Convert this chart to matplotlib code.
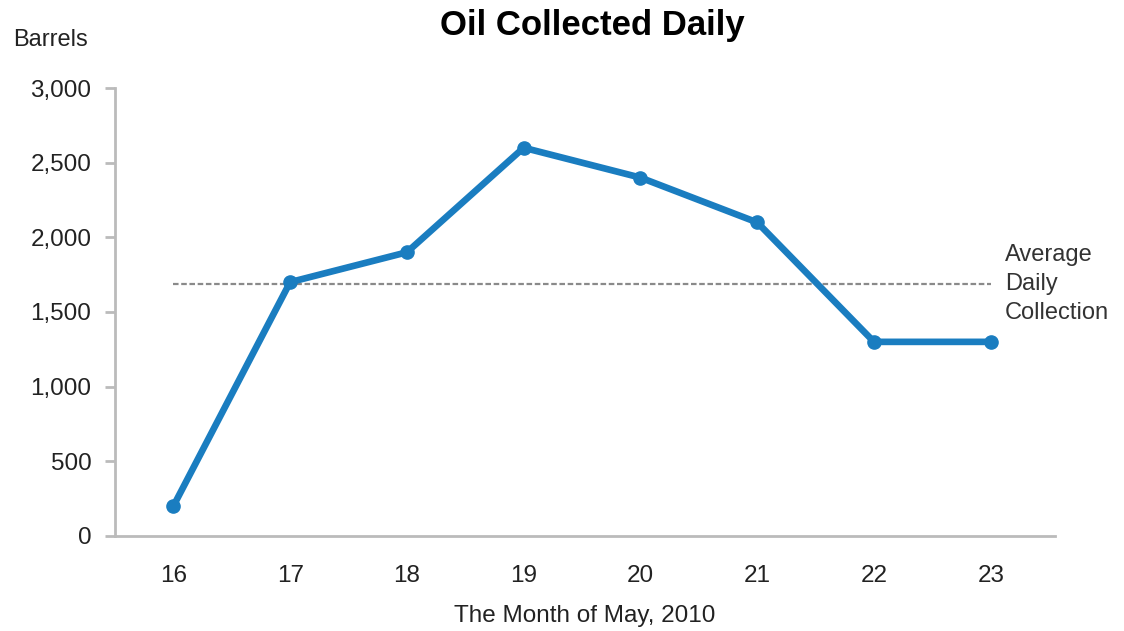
import numpy as np
from matplotlib import pyplot as plt
from matplotlib.ticker import FuncFormatter

plt.rcParams['font.family'] = ['Liberation Sans', 'DejaVu Sans']

days = [16, 17, 18, 19, 20, 21, 22, 23]
barrels = [200, 1700, 1900, 2600, 2400, 2100, 1300, 1300]
y_ticks = [0, 500, 1000, 1500, 2000, 2500, 3000]

avg = np.mean(barrels)

fig = plt.figure(figsize=(11.24, 6.31), dpi=100)
ax = fig.add_axes([0.1023, 0.1506, 0.8363, 0.7099])

ax.plot(days, barrels, color='#1a7dc0', lw=4.8, marker='o', ms=9.5,
        solid_joinstyle='round', zorder=3)
ax.plot([days[0], days[-1]], [avg, avg], color='#8a8a8a', lw=1.6,
        ls=(0, (2.5, 1.2)), zorder=2)
ax.text(days[-1] + 0.12, avg, 'Average\nDaily\nCollection', fontsize=17,
        color='#333333', va='center', ha='left', linespacing=1.4)

ax.set_xlim(15.5, 23.55)
ax.set_ylim(0, 3000)
ax.set_xticks(days)
ax.set_yticks(y_ticks)
ax.yaxis.set_major_formatter(FuncFormatter(lambda v, p: f'{int(v):,}'))

for side in ['top', 'right']:
    ax.spines[side].set_visible(False)
for side in ['left', 'bottom']:
    ax.spines[side].set_color('#bbbbbb')
    ax.spines[side].set_linewidth(2)

ax.tick_params(axis='y', length=7, width=2, color='#bbbbbb', labelsize=17.5,
               labelcolor='#222222', pad=10)
ax.tick_params(axis='x', length=0, labelsize=17.5, labelcolor='#222222', pad=21)

ax.set_xlabel('The Month of May, 2010', fontsize=17.5, color='#222222', labelpad=13)
fig.text(0.527, 0.960, 'Oil Collected Daily', fontsize=25, fontweight='bold',
         ha='center', va='center')
fig.text(0.012, 0.937, 'Barrels', fontsize=17, color='#222222', va='center')

fig.savefig('out.png', dpi=100)
